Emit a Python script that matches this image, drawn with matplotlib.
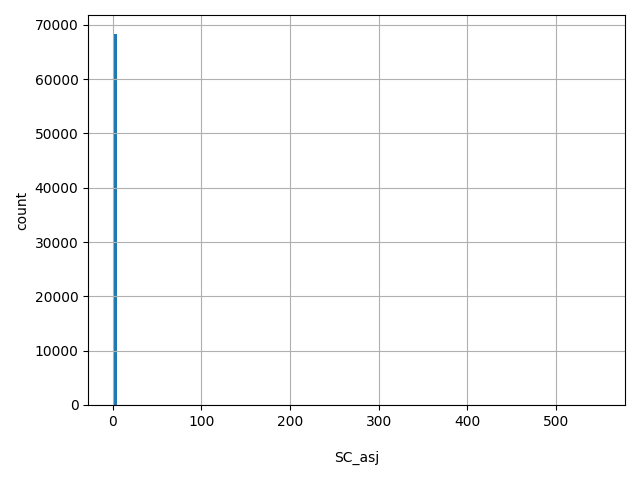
import matplotlib
matplotlib.use("Agg")
import matplotlib.pyplot as plt
import numpy as np

# histogram of SC_asj: nearly everything sits in the first bin
x_min = 0.0
x_max = 550.0
n_bins = 100
first_bin_count = 68400
last_bin_count = 1

counts = np.zeros(n_bins)
counts[0] = first_bin_count
counts[-1] = last_bin_count

edges = np.linspace(x_min, x_max, n_bins + 1)
centers = (edges[:-1] + edges[1:]) / 2

fig, ax = plt.subplots(figsize=(6.4, 4.8), dpi=100)
ax.hist(centers, bins=edges, weights=counts, color="#1f77b4")
ax.grid(True)
ax.set_xlabel("SC_asj", labelpad=16)
ax.set_ylabel("count")
fig.tight_layout()
fig.savefig("out.png")
